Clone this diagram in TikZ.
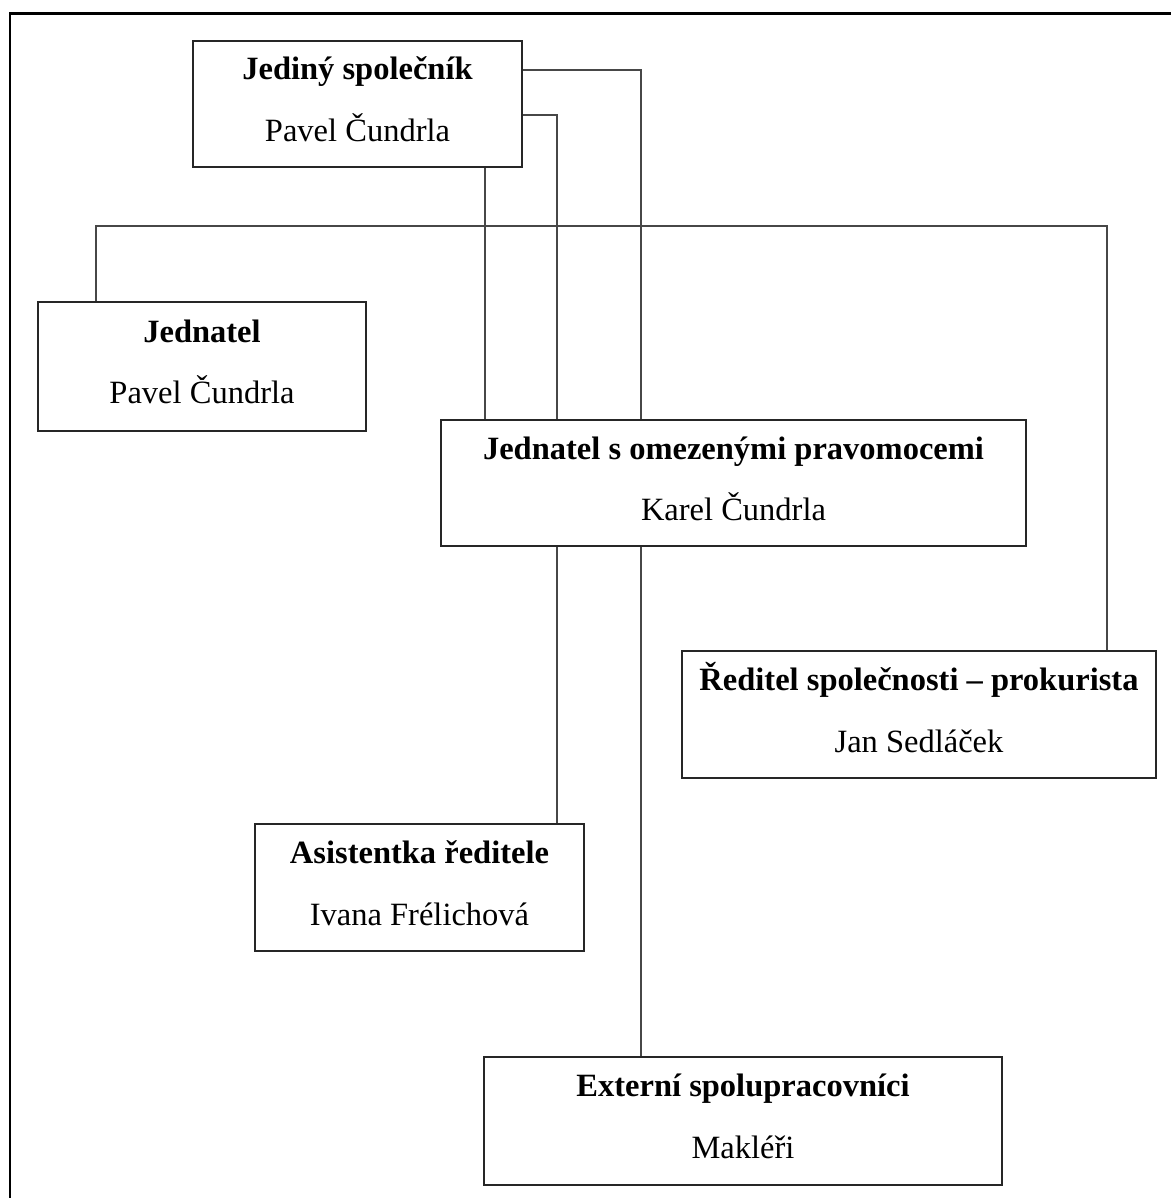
\documentclass[tikz,border=0pt]{standalone}
\usepackage{fontspec}
\setmainfont{Liberation Serif}
\begin{document}
\begin{tikzpicture}[x=1pt,y=-1pt,
  orgbox/.style={draw=black!85,line width=2pt,fill=white,inner sep=0pt},
  role/.style={anchor=base,inner sep=0pt,font=\fontsize{32.5}{39}\selectfont\bfseries},
  person/.style={anchor=base,inner sep=0pt,font=\fontsize{32.5}{39}\selectfont},
  link/.style={draw=black!72,line width=2pt}]
\useasboundingbox (0,0) rectangle (1171,1198);
\fill[white] (0,0) rectangle (1171,1198);

% page frame (only the left and top edges fall inside)
\draw[line width=2.4pt,black] (10,1198) -- (10,13.5) -- (1171,13.5);

% boxes
\node[orgbox,minimum width=329pt,minimum height=126pt] (A) at (357.5,104) {};
\node[orgbox,minimum width=328pt,minimum height=129pt] (B) at (202,366.5) {};
\node[orgbox,minimum width=585pt,minimum height=126pt] (C) at (733.5,483) {};
\node[orgbox,minimum width=474pt,minimum height=127pt] (D) at (919,714.5) {};
\node[orgbox,minimum width=329pt,minimum height=127pt] (E) at (419.5,887.5) {};
\node[orgbox,minimum width=518pt,minimum height=128pt] (F) at (743,1121) {};

% texts
\node[role]   (At) at ([yshift=-40pt]A.north)   {Jediný společník};
\node[person] (An) at ([yshift=-101.5pt]A.north) {Pavel Čundrla};
\node[role]   (Bt) at ([yshift=-41pt]B.north)   {Jednatel};
\node[person] (Bn) at ([yshift=-102.5pt]B.north) {Pavel Čundrla};
\node[role]   (Ct) at ([yshift=-40pt]C.north)   {Jednatel s omezenými pravomocemi};
\node[person] (Cn) at ([yshift=-101.5pt]C.north) {Karel Čundrla};
\node[role]   (Dt) at ([yshift=-40pt]D.north)   {Ředitel společnosti – prokurista};
\node[person] (Dn) at ([yshift=-102pt]D.north)  {Jan Sedláček};
\node[role]   (Et) at ([yshift=-40.5pt]E.north) {Asistentka ředitele};
\node[person] (En) at ([yshift=-102pt]E.north)  {Ivana Frélichová};
\node[role]   (Ft) at ([yshift=-40.5pt]F.north) {Externí spolupracovníci};
\node[person] (Fn) at ([yshift=-102.5pt]F.north) {Makléři};

% connectors from the sole partner to the limited executive
\draw[link] ([yshift=-30pt]A.north east) -| ([xshift=-92.5pt]C.north);
\draw[link] ([yshift=-75pt]A.north east) -| ([xshift=-176.5pt]C.north);
\draw[link] ([xshift=127.5pt]A.south) -- ([xshift=127.5pt]A.south |- C.north);

% horizontal bus between executive and director
\coordinate (bus) at (600,226);
\draw[link] ([xshift=-106pt]B.north) |- (bus) -| ([xshift=188pt]D.north);

% limited executive to assistant and external staff
\draw[link] ([xshift=-176.5pt]C.south) -- ([xshift=-176.5pt]C.south |- E.north);
\draw[link] ([xshift=-92.5pt]C.south) -- ([xshift=-92.5pt]C.south |- F.north);
\end{tikzpicture}
\end{document}
